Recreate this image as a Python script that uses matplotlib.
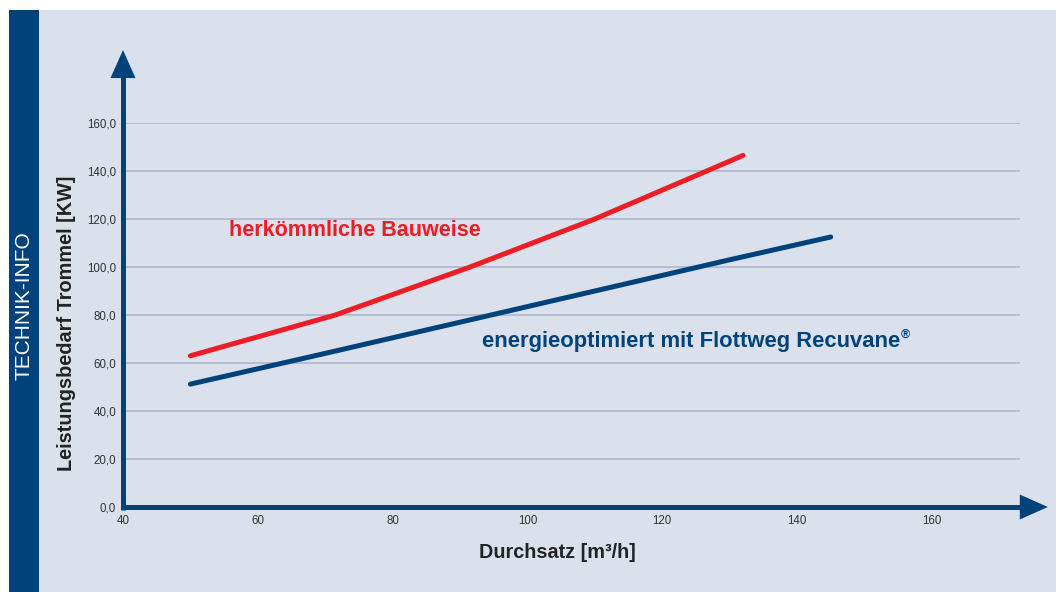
import numpy as np
import matplotlib
matplotlib.use('Agg')
from matplotlib import pyplot as plt
from matplotlib.patches import Rectangle, Polygon

# data
x_conv = [50, 71.5, 91.5, 110, 132]
y_conv = [63, 80, 100, 120, 146.5]
x_opt = [50, 70, 90, 110, 130, 145]
y_opt = [51.2, 64, 77, 90, 103, 112.5]
xticks = [40, 60, 80, 100, 120, 140, 160]
yticks = [0, 20, 40, 60, 80, 100, 120, 140, 160]

BG = '#dae0ec'
DARK = '#00427a'
RED = '#ee1c25'
GRID = '#a8b4cc'
ARIAL = ['Liberation Sans', 'DejaVu Sans']

W, H = 1056, 592
AW, AH = 897, 384  # axes size in pixels
fig = plt.figure(figsize=(W / 100, H / 100), dpi=100, facecolor='white')

# background panel and dark side strip
fig.patches.append(Rectangle((9 / W, 0), 1 - 9 / W, 1 - 10 / H, transform=fig.transFigure,
                             facecolor=BG, edgecolor='none', zorder=-3))
fig.patches.append(Rectangle((9 / W, 0), 30 / W, 1 - 10 / H, transform=fig.transFigure,
                             facecolor=DARK, edgecolor='none', zorder=-2))
fig.text(24 / W, 1 - 306 / H, 'TECHNIK-INFO', rotation=90, ha='center', va='center',
         color='white', fontsize=15, family=ARIAL)

ax = fig.add_axes([123 / W, 85 / H, AW / W, AH / H])
ax.set_facecolor('none')
ax.set_xlim(40, 40 + AW / 6.74)
ax.set_ylim(0, 160)
for s in ax.spines.values():
    s.set_visible(False)

ax.set_yticks(yticks)
ax.set_yticklabels([f'{v:.1f}'.replace('.', ',') for v in yticks])
ax.set_xticks(xticks)
ax.set_xticklabels([str(v) for v in xticks])
ax.tick_params(length=0, pad=5, labelsize=8.3, labelcolor='#333333')
for lab in ax.get_xticklabels() + ax.get_yticklabels():
    lab.set_family(ARIAL)
ax.tick_params(axis='x', pad=6)

for v in yticks[1:]:
    ax.axhline(v, color=GRID, lw=1.1, zorder=1)

# axis arrows: shaft + filled triangle head (sizes in pixels)
hl, hw = 28, 12.5
top, right = 1.19, 1.031
ax.plot([0, 0], [-2.5 / AH, top - hl / AH + 0.002], transform=ax.transAxes, color=DARK,
        lw=3.6, solid_capstyle='butt', clip_on=False, zorder=4)
ax.plot([-2.5 / AW, right - hl / AW + 0.002], [0, 0], transform=ax.transAxes, color=DARK,
        lw=3.6, solid_capstyle='butt', clip_on=False, zorder=4)
ax.add_patch(Polygon([(-hw / AW, top - hl / AH), (hw / AW, top - hl / AH), (0, top)],
                     closed=True, transform=ax.transAxes, facecolor=DARK, edgecolor='none',
                     clip_on=False, zorder=4))
ax.add_patch(Polygon([(right - hl / AW, -hw / AH), (right - hl / AW, hw / AH), (right, 0)],
                     closed=True, transform=ax.transAxes, facecolor=DARK, edgecolor='none',
                     clip_on=False, zorder=4))

ax.plot(x_conv, y_conv, color=RED, lw=3.6, solid_capstyle='round', solid_joinstyle='round', zorder=3)
ax.plot(x_opt, y_opt, color=DARK, lw=3.6, solid_capstyle='round', solid_joinstyle='round', zorder=3)

ax.text(55.7, 112.9, 'herkömmliche Bauweise', color=RED, fontsize=15.5,
        fontweight='bold', family=ARIAL, va='baseline')
t = ax.text(93.3, 66.5, 'energieoptimiert mit Flottweg Recuvane', color=DARK, fontsize=15.8,
            fontweight='bold', family=ARIAL, va='baseline')
ax.annotate('®', xy=(1.0, 0.55), xycoords=t, color=DARK, fontsize=9,
            fontweight='bold', family=ARIAL, va='bottom', ha='left')

ax.set_xlabel('Durchsatz [m³/h]', fontsize=14.3, fontweight='bold', family=ARIAL, color='#222222')
ax.xaxis.set_label_coords(0.484, -0.094)
ax.set_ylabel('Leistungsbedarf Trommel [KW]', fontsize=14.3, fontweight='bold', family=ARIAL,
              color='#222222')
ax.yaxis.set_label_coords(-0.052, 0.479)

fig.savefig('out.png', dpi=100, facecolor='white')
